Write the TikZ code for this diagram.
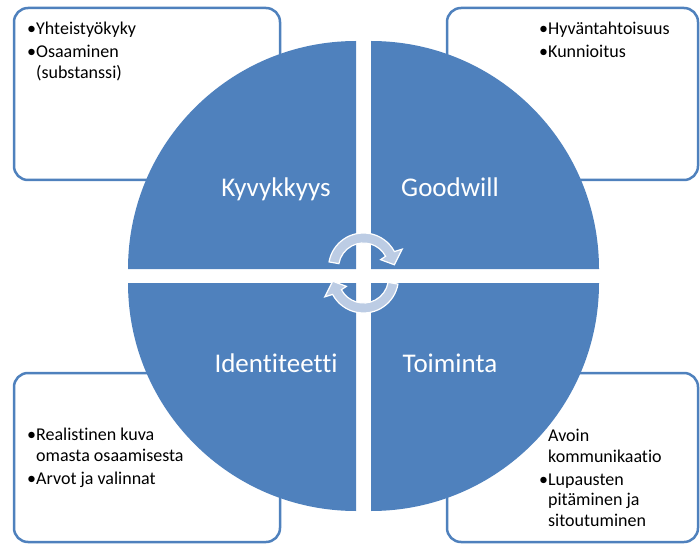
\documentclass[tikz,border=0pt]{standalone}
\usepackage{fontspec}
\setmainfont{Carlito}[Ligatures=NoCommon]
\usepackage{tikz}
\definecolor{quadblue}{RGB}{79,129,189}
\definecolor{arrowfill}{RGB}{188,204,228}
\tikzstyle{box}=[draw=quadblue,line width=2.5pt,fill=white,rounded corners=14pt]
\tikzstyle{quad}=[fill=quadblue]
\tikzstyle{quadtext}=[text=white,font=\fontsize{27}{30}\selectfont,anchor=base]
\tikzstyle{note}=[anchor=north west,align=left,inner sep=0pt,font=\fontsize{18}{20.5}\selectfont]
\tikzstyle{cycarrow}=[fill=arrowfill,draw=white,line width=1.2pt]

\begin{document}
\begin{tikzpicture}[x=1pt,y=1pt]
\useasboundingbox (0,0) rectangle (700,544);
\draw[box] (14,364) rectangle (280,536);
\draw[box] (447,364) rectangle (698,536);
\draw[box] (14,2) rectangle (280,171);
\draw[box] (447,2) rectangle (698,171);
\node[note] (n1) at (27,522) {\textbullet Yhteisty\"okyky\\[2.5pt]\textbullet Osaaminen\\\hphantom{\textbullet}(substanssi)};
\node[note] (n2) at (539,522) {\textbullet Hyv\"antahtoisuus\\[2.5pt]\textbullet Kunnioitus};
\node[note] (n3) at (27,116) {\textbullet Realistinen kuva\\\hphantom{\textbullet}omasta osaamisesta\\[2.5pt]\textbullet Arvot ja valinnat};
\node[note] (n4) at (539,115) {\hphantom{\textbullet}Avoin\\\hphantom{\textbullet}kommunikaatio\\[2.5pt]\textbullet Lupausten\\\hphantom{\textbullet}pit\"aminen ja\\\hphantom{\textbullet}sitoutuminen};
\fill[quad] (356,275) -- ++(0,228) arc[start angle=90,end angle=180,radius=228] -- cycle;
\fill[quad] (371,275) -- ++(228,0) arc[start angle=0,end angle=90,radius=228] -- cycle;
\fill[quad] (356,261) -- ++(-228,0) arc[start angle=180,end angle=270,radius=228] -- cycle;
\fill[quad] (371,261) -- ++(0,-228) arc[start angle=270,end angle=360,radius=228] -- cycle;
\node[quadtext] (kyv) at (276,347) {Kyvykkyys};
\node[quadtext] (good) at (450,347) {Goodwill};
\node[quadtext] (iden) at (276,172) {Identiteetti};
\node[quadtext] (toim) at (450,172) {Toiminta};
\foreach \cx/\cy/\rot in {363.5/276/0,363.5/266/180}
  \draw[cycarrow,shift={(\cx,\cy)},rotate=\rot] (170:35) arc[start angle=170,end angle=28,radius=35]
    -- (26:43) -- (6:31) -- (26:19) -- (28:25) arc[start angle=28,end angle=170,radius=25] -- cycle;
\end{tikzpicture}
\end{document}
